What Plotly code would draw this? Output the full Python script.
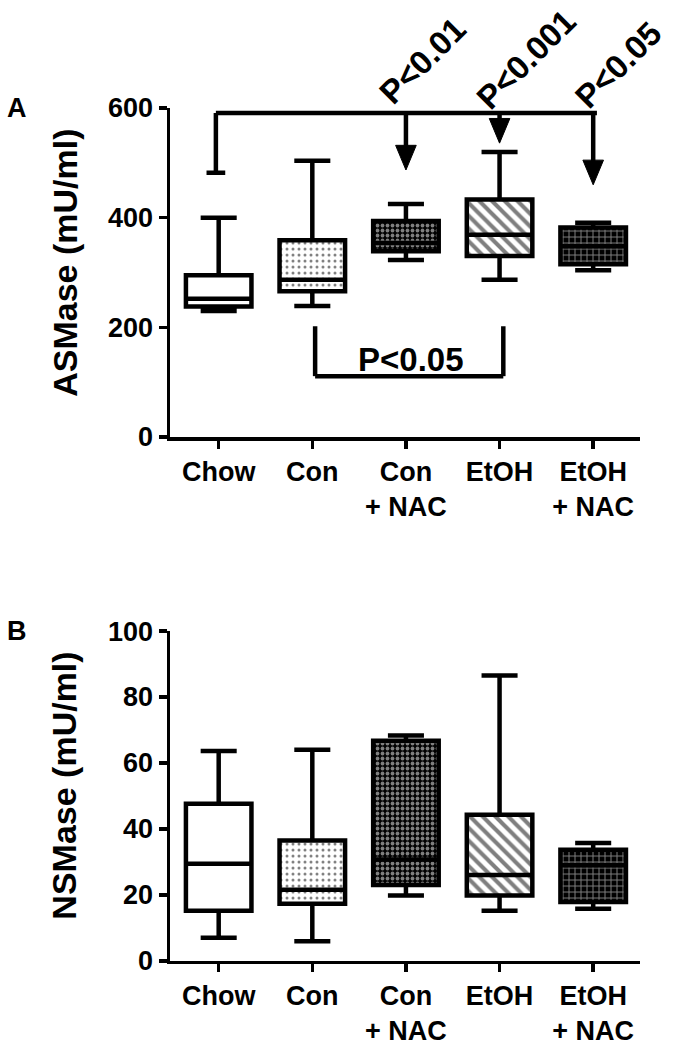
import plotly.graph_objects as go

# ---------------- data ----------------
categories = ["Chow", "Con", "Con<br>+ NAC", "EtOH", "EtOH<br>+ NAC"]
positions = [0, 1, 2, 3, 4]

# Panel A: ASMase (mU/ml)
as_min = [230, 239, 323, 287, 304]
as_q1 = [238, 266, 339, 330, 315]
as_med = [252, 287, 354, 369, 348]
as_q3 = [295, 359, 394, 433, 382]
as_max = [400, 504, 425, 520, 391]

# Panel B: NSMase (mU/ml)
ns_min = [7.0, 5.9, 19.8, 15.2, 15.8]
ns_q1 = [15.2, 17.3, 23.0, 19.8, 17.8]
ns_med = [29.4, 21.5, 30.7, 26.0, 29.0]
ns_q3 = [47.6, 36.5, 66.7, 44.3, 33.7]
ns_max = [63.6, 64.0, 68.3, 86.5, 35.7]

# significance annotations (panel A)
bracket_level = 591
bracket_start_leg_end = 482          # leg under Chow
arrow_targets = [2, 3, 4]
arrow_tips = [487, 536, 460]
p_labels = ["P<0.01", "P<0.001", "P<0.05"]
p_label_x = [2.18, 3.28, 4.27]
p_label_y = [686, 689, 680]

low_bracket_groups = [1, 3]
low_bracket_top = 202
low_bracket_level = 111
low_p_label = "P<0.05"
low_p_label_pos = [2.05, 142]

panel_letters = ["A", "B"]
y_titles = ["ASMase (mU/ml)", "NSMase (mU/ml)"]

# ---------------- styles ----------------
FONT = "Liberation Sans"
LW = 4.5
pat_shape = ["", ".", ".", "\\", "+"]
pat_fg = ["black", "black", "white", "black", "white"]
pat_bg = ["white", "white", "black", "white", "black"]
pat_size = [8, 6, 5, 9, 6]
pat_solid = [0.2, 0.2, 0.45, 0.45, 0.3]

A_RANGE = [0, 600]
B_RANGE = [0, 100]
A_DOM = [0.5838, 0.8971]
B_DOM = [0.0850, 0.3990]

fig = go.Figure()


def add_panel(fig, xa, ya, mn, q1, med, q3, mx):
    for i in range(len(positions)):
        fig.add_trace(go.Bar(
            x=[positions[i]], y=[q3[i] - q1[i]], base=[q1[i]], width=0.7,
            marker=dict(color=pat_bg[i], line=dict(width=0),
                        pattern=dict(shape=pat_shape[i], fgcolor=pat_fg[i],
                                     bgcolor=pat_bg[i], size=pat_size[i],
                                     solidity=pat_solid[i], fillmode="overlay")),
            xaxis=xa, yaxis=ya, showlegend=False, hoverinfo="skip"))
    fig.add_trace(go.Box(
        x=positions, q1=q1, median=med, q3=q3, lowerfence=mn, upperfence=mx,
        width=0.7, whiskerwidth=0.55, boxpoints=False,
        line=dict(color="black", width=LW), fillcolor="rgba(0,0,0,0)",
        xaxis=xa, yaxis=ya, showlegend=False, hoverinfo="skip"))


add_panel(fig, "x", "y", as_min, as_q1, as_med, as_q3, as_max)
add_panel(fig, "x2", "y2", ns_min, ns_q1, ns_med, ns_q3, ns_max)

axis_common = dict(showline=True, linecolor="black", linewidth=3.5, ticks="outside",
                   ticklen=8, tickwidth=3.5, tickcolor="black", showgrid=False,
                   zeroline=False, mirror=False, automargin=False)
xfont = dict(family=FONT, size=27, color="black", weight="bold")
yfont = dict(family=FONT, size=27, color="black", weight="bold")

fig.update_layout(
    template="none",
    width=682, height=1050,
    margin=dict(l=170, r=42, t=0, b=0, autoexpand=False),
    paper_bgcolor="white", plot_bgcolor="white",
    barmode="overlay", showlegend=False,
    xaxis=dict(domain=[0, 1], anchor="y", range=[-0.52, 4.5], tickvals=positions,
               ticktext=categories, tickfont=xfont, **axis_common),
    yaxis=dict(domain=A_DOM, anchor="x", range=A_RANGE,
               tickvals=[0, 200, 400, 600], tickfont=yfont, **axis_common),
    xaxis2=dict(domain=[0, 1], anchor="y2", range=[-0.52, 4.5], tickvals=positions,
                ticktext=categories, tickfont=xfont, **axis_common),
    yaxis2=dict(domain=B_DOM, anchor="x2", range=B_RANGE,
                tickvals=[0, 20, 40, 60, 80, 100], tickfont=yfont, **axis_common),
)

shapes = []
line_style = dict(color="black", width=LW)
# top bracket
shapes.append(dict(type="line", xref="x", yref="y", x0=positions[0] - 0.03,
                   x1=positions[4] + 0.04, y0=bracket_level, y1=bracket_level, line=line_style))
shapes.append(dict(type="line", xref="x", yref="y", x0=positions[0] - 0.03, x1=positions[0] - 0.03,
                   y0=bracket_level, y1=bracket_start_leg_end, line=line_style))
shapes.append(dict(type="line", xref="x", yref="y", x0=positions[0] - 0.13, x1=positions[0] + 0.07,
                   y0=bracket_start_leg_end, y1=bracket_start_leg_end, line=line_style))
head_h = 45
head_w = 0.11
for xt, tip in zip(arrow_targets, arrow_tips):
    shapes.append(dict(type="line", xref="x", yref="y", x0=xt, x1=xt,
                       y0=bracket_level, y1=tip + head_h * 0.5, line=line_style))
    path = f"M {xt - head_w},{tip + head_h} L {xt + head_w},{tip + head_h} L {xt},{tip} Z"
    shapes.append(dict(type="path", xref="x", yref="y", path=path,
                       fillcolor="black", line=dict(color="black", width=1)))
# lower bracket
a, b = low_bracket_groups
shapes.append(dict(type="line", xref="x", yref="y", x0=a + 0.03, x1=a + 0.03,
                   y0=low_bracket_top, y1=low_bracket_level, line=line_style))
shapes.append(dict(type="line", xref="x", yref="y", x0=b + 0.04, x1=b + 0.04,
                   y0=low_bracket_top, y1=low_bracket_level, line=line_style))
shapes.append(dict(type="line", xref="x", yref="y", x0=a + 0.03, x1=b + 0.04,
                   y0=low_bracket_level, y1=low_bracket_level, line=line_style))
fig.update_layout(shapes=shapes)

ann = []
pfont = dict(family=FONT, size=33, color="black", weight="bold")
for lab, px, py in zip(p_labels, p_label_x, p_label_y):
    ann.append(dict(x=px, y=py / A_RANGE[1], xref="x", yref="y domain", text=lab,
                    textangle=-45, showarrow=False, font=pfont,
                    xanchor="center", yanchor="middle"))
ann.append(dict(x=low_p_label_pos[0], y=low_p_label_pos[1], xref="x", yref="y",
                text=low_p_label, showarrow=False,
                font=dict(family=FONT, size=33, color="black", weight="bold")))
# axis titles & panel letters
tfont = dict(family=FONT, size=34, color="black", weight="bold")
ann.append(dict(x=-0.225, y=0.750, xref="paper", yref="paper",
                text=y_titles[0], textangle=-90, showarrow=False, font=tfont,
                xanchor="center", yanchor="middle"))
ann.append(dict(x=-0.225, y=0.252, xref="paper", yref="paper",
                text=y_titles[1], textangle=-90, showarrow=False, font=tfont,
                xanchor="center", yanchor="middle"))
lfont = dict(family=FONT, size=27, color="black", weight="bold")
ann.append(dict(x=-0.352, y=A_DOM[1], xref="paper", yref="paper", text=panel_letters[0],
                showarrow=False, font=lfont, xanchor="left", yanchor="middle"))
ann.append(dict(x=-0.352, y=B_DOM[1], xref="paper", yref="paper", text=panel_letters[1],
                showarrow=False, font=lfont, xanchor="left", yanchor="middle"))
fig.update_layout(annotations=ann)

fig.write_html("out.html", config={"staticPlot": True},
               post_script="document.body.style.margin='0';document.body.style.overflow='hidden';")
